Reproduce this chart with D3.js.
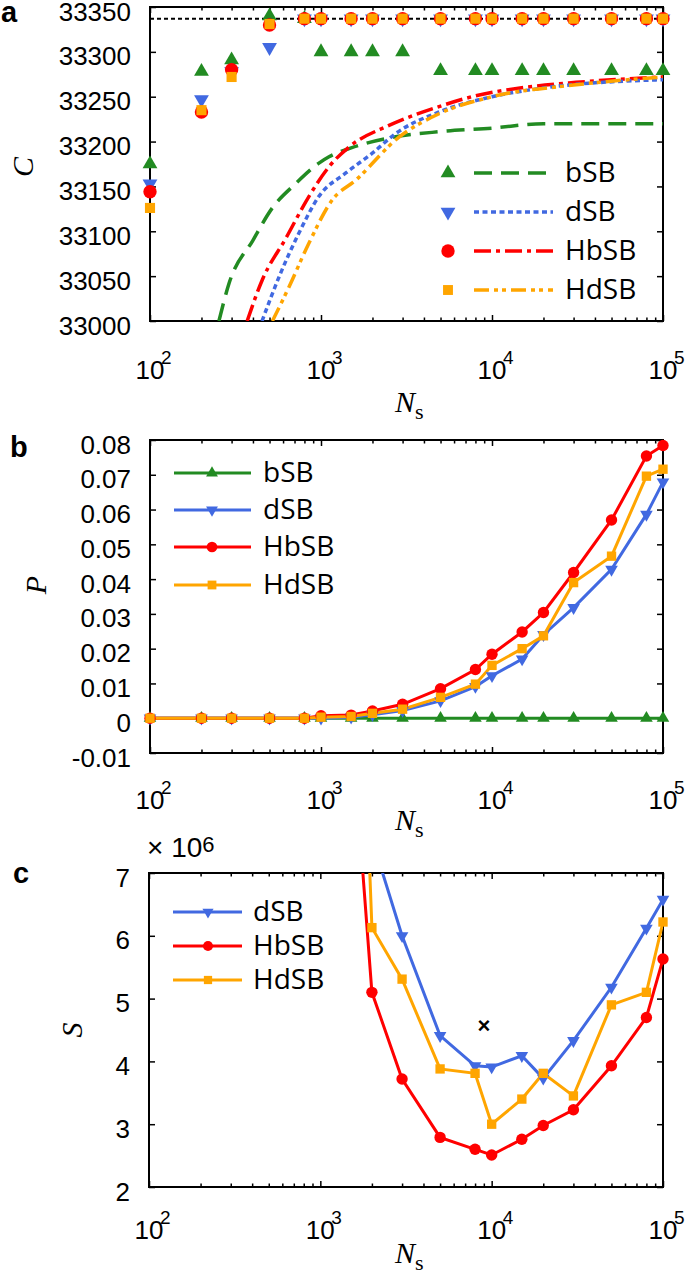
<!DOCTYPE html>
<html>
<head>
<meta charset="utf-8">
<script src="https://cdn.jsdelivr.net/npm/d3@7"></script>
<style>
  body { margin: 0; background: #fff; }
  svg text { font-family: "Liberation Sans", Arial, sans-serif; fill: #000; }
  .leg { font-family: "Open Sans", sans-serif; font-size: 28px; }
  .ital { font-family: "Liberation Serif", serif; font-style: italic; }
</style>
</head>
<body>
<script>
// ---- data ----
const Ns = [100, 200, 300, 500, 800, 1000, 1500, 2000, 3000, 5000, 8000, 10000, 15000, 20000, 30000, 50000, 80000, 100000];
const decades = [1e2, 1e3, 1e4, 1e5];

// panel a : cut value C (markers) and fitted curves
const cOptimum = 33337;
const cBSB  = [33175, 33278, 33291, 33340, 33337, 33300, 33300, 33300, 33300, 33279, 33279, 33279, 33279, 33279, 33279, 33279, 33279, 33279];
const cDSB  = [33153, 33247, 33278, 33305, 33337, 33337, 33337, 33337, 33337, 33337, 33337, 33337, 33337, 33337, 33337, 33337, 33337, 33337];
const cHBSB = [33144, 33233, 33280, 33330, 33337, 33337, 33337, 33337, 33337, 33337, 33337, 33337, 33337, 33337, 33337, 33337, 33337, 33337];
const cHDSB = [33126, 33235, 33272, 33331, 33337, 33337, 33337, 33337, 33337, 33337, 33337, 33337, 33337, 33337, 33337, 33337, 33337, 33337];
const fitBSB  = [[253, 33000], [290, 33042], [400, 33090], [519, 33126], [700, 33152], [973, 33176], [1114, 33183], [1500, 33193], [2500, 33204], [4900, 33211], [10000, 33215], [20000, 33220], [100000, 33220]];
const fitDSB  = [[452, 33000], [568, 33049], [743, 33098], [973, 33139], [1397, 33165], [1995, 33187], [2736, 33209], [4900, 33233], [10000, 33250], [20500, 33260], [100000, 33269]];
const fitHBSB = [[370, 33000], [454, 33046], [622, 33092], [851, 33139], [1114, 33172], [1459, 33194], [2500, 33218], [4900, 33239], [8000, 33251], [15000, 33260], [31000, 33266], [100000, 33272]];
const fitHDSB = [[520, 33000], [650, 33038], [851, 33087], [1164, 33135], [1597, 33157], [2860, 33205], [4900, 33231], [10000, 33250], [30000, 33263], [100000, 33272]];

// panel b : P
const pBSB  = [0, 0, 0, 0, 0, 0, 0, 0, 0, 0, 0, 0, 0, 0, 0, 0, 0, 0];
const pDSB  = [0, 0, 0, 0, 0, 0, 0.0003, 0.001, 0.0022, 0.005, 0.0091, 0.0122, 0.017, 0.024, 0.0318, 0.0428, 0.0586, 0.0679];
const pHBSB = [0, 0, 0, 0, 0, 0.0007, 0.0009, 0.0021, 0.004, 0.0085, 0.014, 0.0184, 0.0248, 0.0304, 0.0419, 0.057, 0.0754, 0.0784];
const pHDSB = [0, 0, 0, 0, 0, 0.0003, 0.0005, 0.0014, 0.0026, 0.006, 0.0098, 0.0152, 0.02, 0.0237, 0.039, 0.0466, 0.0696, 0.0716];

// panel c : S (x 10^6), null = not plotted
const sDSB  = [null, null, null, null, null, null, null, 7.55, 6.0, 4.41, 3.93, 3.91, 4.09, 3.73, 4.33, 5.18, 6.12, 6.58];
const sHBSB = [null, null, null, null, null, null, 9.6, 5.10, 3.72, 2.79, 2.60, 2.51, 2.76, 2.98, 3.23, 3.93, 4.70, 5.63];
const sHDSB = [null, null, null, null, null, null, 15, 6.13, 5.31, 3.88, 3.81, 3.00, 3.40, 3.81, 3.45, 4.90, 5.10, 6.22];
const sBest = [9000, 4.58];

// tick labels
const cTicks = [33000, 33050, 33100, 33150, 33200, 33250, 33300, 33350];
const pTicks = [-0.01, 0, 0.01, 0.02, 0.03, 0.04, 0.05, 0.06, 0.07, 0.08];
const sTicks = [2, 3, 4, 5, 6, 7];

const col = { bSB: "#228b22", dSB: "#4169e1", HbSB: "#ff0000", HdSB: "#ffa500" };
const dash = { bSB: "18,9", dSB: "5,3.5", HbSB: "17,5,4,5", HdSB: "15,5,4,4,4,5" };

const minors = [];
[100, 1000, 10000].forEach(d => { for (let k = 2; k < 10; k++) minors.push(d * k); });

const svg = d3.select("body").append("svg").attr("width", 685).attr("height", 1271);

// marker path; k scales the marker
function marker(name, k) {
  if (name == "bSB" || name == "dSB") return d3.symbol(d3.symbolTriangle, 95 * k * k)();
  if (name == "HbSB") return d3.symbol(d3.symbolCircle, Math.PI * 6.7 * 6.7 * k * k)();
  return d3.symbol(d3.symbolSquare, 121 * k * k)();
}
function rot(name) { return name == "dSB" ? " rotate(180)" : ""; }

function makePanel(o) {
  const right = 663;
  const x = d3.scaleLog().domain([1e2, 1e5]).range([o.left, right]);
  const y = d3.scaleLinear().domain(o.yDomain).range([o.bottom, o.top]);
  const g = svg.append("g");

  g.append("clipPath").attr("id", "clip" + o.id)
    .append("rect").attr("x", o.left).attr("y", o.top)
    .attr("width", right - o.left).attr("height", o.bottom - o.top);

  const ax = (axis, tx, ty) => g.append("g")
    .attr("transform", `translate(${tx},${ty})`)
    .call(axis)
    .call(s => s.select(".domain").remove())
    .call(s => s.selectAll("line").attr("stroke-width", 1.5));

  ax(d3.axisBottom(x).tickValues(decades).tickSizeInner(-6).tickSizeOuter(0).tickFormat(""), 0, o.bottom);
  ax(d3.axisBottom(x).tickValues(minors).tickSizeInner(-3.5).tickSizeOuter(0).tickFormat(""), 0, o.bottom);
  ax(d3.axisTop(x).tickValues(decades).tickSizeInner(-6).tickSizeOuter(0).tickFormat(""), 0, o.top);
  ax(d3.axisTop(x).tickValues(minors).tickSizeInner(-3.5).tickSizeOuter(0).tickFormat(""), 0, o.top);
  const yl = ax(d3.axisLeft(y).tickValues(o.yTicks).tickSizeInner(-6).tickSizeOuter(0).tickPadding(19).tickFormat(o.yFmt), o.left, 0);
  yl.selectAll("text").attr("font-size", 26).attr("font-family", "Liberation Sans, Arial, sans-serif").attr("dy", "0.5em");
  ax(d3.axisRight(y).tickValues(o.yTicks).tickSizeInner(-6).tickSizeOuter(0).tickFormat(""), right, 0);

  g.append("rect").attr("x", o.left).attr("y", o.top)
    .attr("width", right - o.left).attr("height", o.bottom - o.top)
    .attr("fill", "none").attr("stroke", "#000").attr("stroke-width", 2);

  // 10^n labels
  decades.forEach(d => {
    g.append("text").attr("x", x(d)).attr("y", o.xLabY).attr("text-anchor", "middle")
      .attr("font-size", 26).text("10");
    g.append("text").attr("x", x(d) + 11).attr("y", o.xLabY - 15)
      .attr("font-size", 19).text(Math.round(Math.log10(d)));
  });

  // N_s
  const nt = g.append("text").attr("class", "ital").attr("x", 395).attr("y", o.nsY).attr("font-size", 30);
  nt.append("tspan").text("N");
  nt.append("tspan").attr("dy", 7).attr("font-size", 22).attr("font-style", "normal").text("s");

  // y label
  g.append("text").attr("class", "ital").attr("font-size", 30).attr("text-anchor", "middle")
    .attr("transform", `translate(${o.yLab[0]},${o.yLab[1]}) rotate(-90)`).text(o.yName);

  // panel letter
  g.append("text").attr("x", o.letter[0]).attr("y", o.letter[1]).attr("font-size", 29)
    .attr("font-weight", "bold").text(o.id);

  return { g, x, y, plot: g.append("g").attr("clip-path", `url(#clip${o.id})`) };
}

// ================= panel a =================
const A = makePanel({
  id: "a", left: 150, top: 7, bottom: 321, yDomain: [33000, 33350], yTicks: cTicks,
  yFmt: d3.format("d"), xLabY: 379, nsY: 412, yLab: [33, 167], yName: "C", letter: [1, 22]
});

A.plot.append("line").attr("x1", A.x(100)).attr("x2", A.x(1e5))
  .attr("y1", A.y(cOptimum)).attr("y2", A.y(cOptimum))
  .attr("stroke", "#000").attr("stroke-width", 2).attr("stroke-dasharray", "4,3");

const fits = { bSB: fitBSB, dSB: fitDSB, HbSB: fitHBSB, HdSB: fitHDSB };
const fitLine = d3.line().x(d => A.x(d[0])).y(d => A.y(d[1])).curve(d3.curveMonotoneX);
["bSB", "HbSB", "dSB", "HdSB"].forEach(n => {
  A.plot.append("path").datum(fits[n]).attr("d", fitLine)
    .attr("fill", "none").attr("stroke", col[n]).attr("stroke-width", 3.5)
    .attr("stroke-dasharray", dash[n]);
});

const cData = { bSB: cBSB, dSB: cDSB, HbSB: cHBSB, HdSB: cHDSB };
["bSB", "dSB", "HbSB", "HdSB"].forEach(n => {
  A.g.append("g").selectAll("path").data(cData[n]).join("path")
    .attr("d", marker(n, n == "HdSB" ? 0.92 : 1))
    .attr("transform", (d, i) => `translate(${A.x(Ns[i])},${A.y(d)})` + rot(n))
    .attr("fill", col[n]);
});

// legend a
const legA = [173, 212, 251, 290];
["bSB", "dSB", "HbSB", "HdSB"].forEach((n, i) => {
  const yy = legA[i];
  A.g.append("path").attr("d", marker(n, n == "HdSB" ? 0.9 : 1.0))
    .attr("transform", `translate(448,${yy})` + rot(n)).attr("fill", col[n]);
  A.g.append("line").attr("x1", 474).attr("x2", 553).attr("y1", yy).attr("y2", yy)
    .attr("stroke", col[n]).attr("stroke-width", 3.5).attr("stroke-dasharray", dash[n]);
  A.g.append("text").attr("class", "leg").attr("x", 565).attr("y", yy + 9).text(n);
});

// ================= panel b =================
const B = makePanel({
  id: "b", left: 150, top: 440, bottom: 753, yDomain: [-0.01, 0.08], yTicks: pTicks,
  yFmt: v => v === 0 ? "0" : (v < 0 ? "-" : "") + Math.abs(v).toFixed(2),
  xLabY: 809, nsY: 830, yLab: [46, 585], yName: "P", letter: [10, 457]
});

const pData = { bSB: pBSB, dSB: pDSB, HbSB: pHBSB, HdSB: pHDSB };
const pLine = d3.line().x((d, i) => B.x(Ns[i])).y(d => B.y(d));
["bSB", "dSB", "HbSB", "HdSB"].forEach(n => {
  B.plot.append("path").datum(pData[n]).attr("d", pLine)
    .attr("fill", "none").attr("stroke", col[n]).attr("stroke-width", 3);
  B.g.append("g").selectAll("path").data(pData[n]).join("path")
    .attr("d", marker(n, 0.85))
    .attr("transform", (d, i) => `translate(${B.x(Ns[i])},${B.y(d)})` + rot(n))
    .attr("fill", col[n]);
});

const legB = [473, 510, 547, 585];
["bSB", "dSB", "HbSB", "HdSB"].forEach((n, i) => {
  const yy = legB[i];
  B.g.append("line").attr("x1", 174).attr("x2", 251).attr("y1", yy).attr("y2", yy)
    .attr("stroke", col[n]).attr("stroke-width", 3);
  B.g.append("path").attr("d", marker(n, 0.8))
    .attr("transform", `translate(212,${yy})` + rot(n)).attr("fill", col[n]);
  B.g.append("text").attr("class", "leg").attr("x", 263).attr("y", yy + 9).text(n);
});

// ================= panel c =================
const C = makePanel({
  id: "c", left: 149, top: 873, bottom: 1187, yDomain: [2, 7], yTicks: sTicks,
  yFmt: d3.format("d"), xLabY: 1239, nsY: 1263, yLab: [82, 1030], yName: "S", letter: [13, 883]
});

const mult = C.g.append("text").attr("x", 147).attr("y", 857)
  .attr("font-family", "Liberation Serif, serif").attr("font-size", 28).text("× 10");
mult.append("tspan").attr("dy", -5).attr("font-size", 22).text("6");

const sData = { dSB: sDSB, HbSB: sHBSB, HdSB: sHDSB };
const sLine = d3.line().defined(d => d != null).x((d, i) => C.x(Ns[i])).y(d => C.y(d));
["dSB", "HbSB", "HdSB"].forEach(n => {
  C.plot.append("path").datum(sData[n]).attr("d", sLine)
    .attr("fill", "none").attr("stroke", col[n]).attr("stroke-width", 3);
  const pts = sData[n].map((d, i) => [Ns[i], d]).filter(p => p[1] != null && p[1] <= 7);
  C.g.append("g").selectAll("path").data(pts).join("path")
    .attr("d", marker(n, 0.85))
    .attr("transform", d => `translate(${C.x(d[0])},${C.y(d[1])})` + rot(n))
    .attr("fill", col[n]);
});

C.g.append("text").attr("x", C.x(sBest[0])).attr("y", C.y(sBest[1]))
  .attr("text-anchor", "middle").attr("dy", "0.35em")
  .attr("font-size", 22).attr("font-weight", "bold").text("×");

const legC = [912, 946, 980];
["dSB", "HbSB", "HdSB"].forEach((n, i) => {
  const yy = legC[i];
  C.g.append("line").attr("x1", 173).attr("x2", 242).attr("y1", yy).attr("y2", yy)
    .attr("stroke", col[n]).attr("stroke-width", 3);
  C.g.append("path").attr("d", marker(n, 0.75))
    .attr("transform", `translate(208,${yy})` + rot(n)).attr("fill", col[n]);
  C.g.append("text").attr("class", "leg").attr("x", 253).attr("y", yy + 9).text(n);
});
</script>
</body>
</html>
